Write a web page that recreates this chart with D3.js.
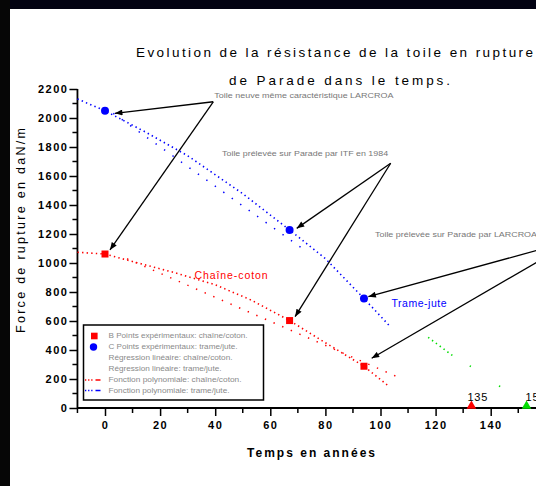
<!DOCTYPE html>
<html><head><meta charset="utf-8">
<script src="https://cdn.jsdelivr.net/npm/d3@7"></script>
<style>
html,body{margin:0;padding:0;background:#fff;overflow:hidden;}
svg{display:block;font-family:"Liberation Sans",Arial,sans-serif;}
</style></head>
<body>
<svg id="c" width="536" height="486"></svg>
<script>
// ---- data ----
const years = [0, 67, 94];
const chaineCoton = [1062, 603, 288];   // B points expérimentaux
const trameJute = [2050, 1228, 755];    // C points expérimentaux
const polyTrameX = [-10, 0, 15, 30, 50, 67, 80, 94, 103];
const polyTrameY = [2131, 2050, 1900, 1740, 1478, 1228, 1030, 755, 572];
const polyChaineX = [-10, 0, 10, 25, 40, 53, 67, 80, 94, 103];
const polyChaineY = [1074, 1062, 1010, 935, 850, 745, 603, 450, 288, 150];
const linChaineX = [8, 106];
const linChaineY = [1029, 216];
const linTrameX = [3, 72];
const linTrameY = [2032, 1095];
const greenSegX = [[117.3, 126.4], [132.4, 132.8], [143, 144.5]];
const greenSegY = [[487, 358], [291, 286], [152, 138]];
const zeroX = [133, 153];
const zeroLabels = ["135", "155"];
const xTicks = [0, 20, 40, 60, 80, 100, 120, 140, 160];
const xTickLabels = ["0", "20", "40", "60", "80", "100", "120", "140", ""];
const yTicks = [0, 200, 400, 600, 800, 1000, 1200, 1400, 1600, 1800, 2000, 2200];
const legendLabels = [
  "B Points expérimentaux: chaîne/coton.",
  "C Points expérimentaux: trame/jute.",
  "Régression linéaire: chaîne/coton.",
  "Régression linéaire: trame/jute.",
  "Fonction polynomiale: chaîne/coton.",
  "Fonction polynomiale: trame/jute."
];
const legendWidths = [139, 129, 124, 113, 133, 121];
// annotations: text, text anchor (data), apex (data), arrow heads (data)
const notes = [
  {text: "Toile neuve même caractéristique LARCROA", tx: 39.7, ty: 2138, tw: 179,
   apex: [39.3, 2112], heads: [[3.6, 2032], [1.8, 1090]]},
  {text: "Toile prélevée sur Parade par ITF en 1984", tx: 42.5, ty: 1738, tw: 166,
   apex: [103.7, 1688], heads: [[69.6, 1239], [69, 630]]},
  {text: "Toile prélevée sur Parade par LARCROA", tx: 98, ty: 1180, tw: 162,
   apex: [170.6, 1159], heads: [[95.6, 768], [96.8, 343]]}
];

const svg = d3.select("#c");
const x = d3.scaleLinear().domain([-10, 160]).range([77.45, 545.8]);
const y = d3.scaleLinear().domain([0, 2200]).range([408, 89]);

// frame bands
svg.append("rect").attr("x", 0).attr("y", 0).attr("width", 536).attr("height", 9).attr("fill", "#020212");
svg.append("rect").attr("x", 0).attr("y", 0).attr("width", 10).attr("height", 486).attr("fill", "#060606");

// title
svg.append("text").attr("x", 136).attr("y", 57).attr("font-size", 13.5).attr("textLength", 397)
  .attr("lengthAdjust", "spacing").text("Evolution de la résistance de la toile en rupture");
svg.append("text").attr("x", 229).attr("y", 85).attr("font-size", 13.5).attr("textLength", 221)
  .attr("lengthAdjust", "spacing").text("de Parade dans le temps.");

// axes
const xAxis = d3.axisBottom(x).tickValues(xTicks).tickSize(8).tickFormat((d, i) => xTickLabels[i]);
const gx = svg.append("g").attr("transform", `translate(0,${y(0)})`).call(xAxis);
gx.select(".domain").attr("d", `M${x(-10)},0H${x(160)}`).attr("stroke-width", 1.8);
gx.selectAll(".tick line").attr("stroke-width", 1.5);
gx.selectAll(".tick text").attr("font-size", 11).attr("font-weight", "bold").attr("letter-spacing", 1.5)
  .attr("font-family", "Liberation Sans").attr("dy", "1.2em").attr("y", 8);
const xMinor = d3.range(-10, 161, 20);
gx.selectAll(".minor").data(xMinor).enter().append("line")
  .attr("x1", d => x(d)).attr("x2", d => x(d)).attr("y1", 0).attr("y2", 5)
  .attr("stroke", "#000").attr("stroke-width", 1.5);

const yAxis = d3.axisLeft(y).tickValues(yTicks).tickSize(8).tickFormat(d3.format("d"));
const gy = svg.append("g").attr("transform", `translate(${x(-10)},0)`).call(yAxis);
gy.select(".domain").attr("d", `M0,${y(0)}V${y(2200)}`).attr("stroke-width", 1.8);
gy.selectAll(".tick line").attr("stroke-width", 1.5);
gy.selectAll(".tick text").attr("font-size", 11).attr("font-weight", "bold").attr("letter-spacing", 1.5)
  .attr("font-family", "Liberation Sans").attr("x", -9);
const yMinor = d3.range(100, 2200, 200);
gy.selectAll(".minor").data(yMinor).enter().append("line")
  .attr("x1", -5).attr("x2", 0).attr("y1", d => y(d)).attr("y2", d => y(d))
  .attr("stroke", "#000").attr("stroke-width", 1.5);

// axis titles
svg.append("text").attr("x", 247).attr("y", 457).attr("font-size", 12).attr("font-weight", "bold")
  .attr("textLength", 128).attr("lengthAdjust", "spacing").text("Temps en années");
svg.append("text").attr("transform", "translate(25,333) rotate(-90)").attr("font-size", 12.5)
  .attr("textLength", 205).attr("lengthAdjust", "spacing").text("Force de rupture en daN/m");

const line = d3.line().x(d => x(d[0])).y(d => y(d[1]));

// polynomial curves
svg.append("path").attr("d", line(polyTrameX.map((v, i) => [v, polyTrameY[i]])))
  .attr("fill", "none").attr("stroke", "#0000ff").attr("stroke-width", 1.6).attr("stroke-dasharray", "1.4,3.2");
svg.append("path").attr("d", line(polyChaineX.map((v, i) => [v, polyChaineY[i]])))
  .attr("fill", "none").attr("stroke", "#ff0000").attr("stroke-width", 1.6).attr("stroke-dasharray", "1.4,3.2");
// linear regressions (sparse dots)
svg.append("path").attr("d", line(linTrameX.map((v, i) => [v, linTrameY[i]])))
  .attr("fill", "none").attr("stroke", "#0000ff").attr("stroke-width", 1.5).attr("stroke-dasharray", "1.4,9");
svg.append("path").attr("d", line(linChaineX.map((v, i) => [v, linChaineY[i]])))
  .attr("fill", "none").attr("stroke", "#ff0000").attr("stroke-width", 1.5).attr("stroke-dasharray", "1.4,8");
// green
greenSegX.forEach((sx, i) => {
  svg.append("path").attr("d", line(sx.map((v, j) => [v, greenSegY[i][j]])))
    .attr("fill", "none").attr("stroke", "#00dd00").attr("stroke-width", 1.6).attr("stroke-dasharray", "1.4,3.4");
});

// labels on curves
svg.append("text").attr("x", x(32.5)).attr("y", y(890)).attr("font-size", 10.5).attr("fill", "#ff0000")
  .attr("textLength", 73).attr("lengthAdjust", "spacing").text("Chaîne-coton");
svg.append("text").attr("x", x(104)).attr("y", y(700)).attr("font-size", 10.5).attr("fill", "#0000ff")
  .attr("textLength", 55).attr("lengthAdjust", "spacing").text("Trame-jute");

// experimental points
svg.selectAll(".sq").data(years).enter().append("rect")
  .attr("x", (d) => x(d) - 3.5).attr("y", (d, i) => y(chaineCoton[i]) - 3.5)
  .attr("width", 7).attr("height", 7).attr("fill", "#ff0000");
svg.selectAll(".ci").data(years).enter().append("circle")
  .attr("cx", d => x(d)).attr("cy", (d, i) => y(trameJute[i])).attr("r", 4).attr("fill", "#0000ff");

// zero crossings
const tri = d3.symbol().type(d3.symbolTriangle).size(40);
svg.selectAll(".tri").data(zeroX).enter().append("path")
  .attr("d", tri).attr("transform", d => `translate(${x(d)},${y(0) - 2})`)
  .attr("fill", (d, i) => i === 0 ? "#ff0000" : "#00dd00");
svg.selectAll(".zl").data(zeroX).enter().append("text")
  .attr("x", d => x(d) - 4 + (d > 140 ? 3 : 0)).attr("y", y(0) - 7).attr("font-size", 11)
  .attr("letter-spacing", 0.8).text((d, i) => zeroLabels[i]);

// arrows
const defs = svg.append("defs");
defs.append("marker").attr("id", "ah").attr("viewBox", "0 0 10 8").attr("refX", 10).attr("refY", 4)
  .attr("markerWidth", 9).attr("markerHeight", 6).attr("markerUnits", "userSpaceOnUse")
  .attr("orient", "auto").append("path").attr("d", "M0,0L10,4L0,8z").attr("fill", "#000");
notes.forEach(n => {
  n.heads.forEach(h => {
    svg.append("line").attr("x1", x(n.apex[0])).attr("y1", y(n.apex[1]))
      .attr("x2", x(h[0])).attr("y2", y(h[1])).attr("stroke", "#000").attr("stroke-width", 1.3)
      .attr("marker-end", "url(#ah)");
  });
  svg.append("text").attr("x", x(n.tx)).attr("y", y(n.ty)).attr("font-size", 7).attr("fill", "#777")
    .attr("textLength", n.tw).attr("lengthAdjust", "spacingAndGlyphs").text(n.text);
});

// legend
const lg = svg.append("g");
lg.append("rect").attr("x", 83.5).attr("y", 325).attr("width", 180).attr("height", 75)
  .attr("fill", "#fff").attr("stroke", "#000").attr("stroke-width", 1.5);
const rowY = [336, 347, 358, 369, 380, 390.5];
legendLabels.forEach((t, i) => {
  lg.append("text").attr("x", 108.5).attr("y", rowY[i] + 2.3).attr("font-size", 6.8).attr("fill", "#8a8a8a")
    .attr("textLength", legendWidths[i]).attr("lengthAdjust", "spacingAndGlyphs").text(t);
});
lg.append("rect").attr("x", 91).attr("y", rowY[0] - 3.3).attr("width", 6.6).attr("height", 6.6).attr("fill", "#ff0000");
lg.append("circle").attr("cx", 93.5).attr("cy", rowY[1]).attr("r", 3.7).attr("fill", "#0000ff");
[["#ff0000", 4], ["#0000ff", 5]].forEach(([c, i]) => {
  lg.append("path").attr("d", `M85,${rowY[i]}H105`).attr("stroke", c).attr("stroke-width", 1.4)
    .attr("stroke-dasharray", "1.3,1.8,1.3,1.8,1.3,3,5,30");
});
</script>
</body></html>
